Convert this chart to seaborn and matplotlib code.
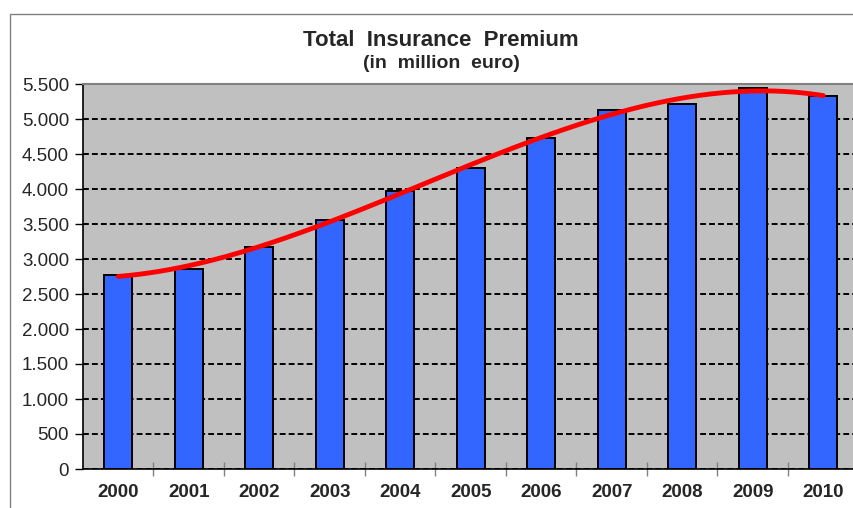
import numpy as np
import pandas as pd
import matplotlib
matplotlib.use("Agg")
import matplotlib.pyplot as plt
import matplotlib.ticker as mticker
from matplotlib.patches import Rectangle
import seaborn as sns

# datos
anios = ["2000", "2001", "2002", "2003", "2004", "2005",
         "2006", "2007", "2008", "2009", "2010"]
primas = [2775, 2860, 3170, 3555, 3975, 4295, 4735, 5130, 5215, 5440, 5330]

titulo = "Total  Insurance  Premium"
subtitulo = "(in  million  euro)"

df = pd.DataFrame({"anio": anios, "prima": primas})

sns.set_theme(style="white")
plt.rcParams["font.family"] = ["Liberation Sans", "DejaVu Sans"]

fig = plt.figure(figsize=(8.54, 5.08), dpi=100)
ax = fig.add_axes([83 / 854, 1 - 469 / 508, 775.5 / 854, 385 / 508])
ax.set_facecolor("#C0C0C0")

sns.barplot(data=df, x="anio", y="prima", color="#3366FF", saturation=1,
            width=0.4, edgecolor="black", linewidth=1.4, ax=ax, zorder=3)

# linea de tendencia polinomica (orden 3), como en Excel
xs = np.arange(len(anios))
coef = np.polyfit(xs, primas, 3)
xf = np.linspace(0, len(anios) - 1, 200)
tend = pd.DataFrame({"x": xf, "y": np.polyval(coef, xf)})
sns.lineplot(data=tend, x="x", y="y", color="red", linewidth=3.5, ax=ax, zorder=4)

ax.set_xlim(-0.5, len(anios) - 0.5)
ax.set_ylim(0, 5500)
ax.set_yticks(np.arange(0, 5501, 500))
ax.yaxis.set_major_formatter(
    mticker.FuncFormatter(lambda v, p: f"{int(v):,}".replace(",", ".")))
ax.grid(axis="y", color="black", linestyle=(0, (3, 1.6)), linewidth=1.4, zorder=1)
ax.set_axisbelow(True)

ax.set_xlabel("")
ax.set_ylabel("")
ax.tick_params(axis="y", direction="out", length=6, width=1, color="black",
               labelsize=13.5, pad=4, left=True)
ax.tick_params(axis="x", which="major", length=0, labelsize=13.5, pad=11)
for t in ax.get_xticklabels():
    t.set_fontweight("bold")
ax.set_xticks(np.arange(0.5, len(anios) - 1, 1), minor=True)
ax.tick_params(axis="x", which="minor", direction="inout", length=10,
               width=1, color="#808080", bottom=True)

for s in ["left", "bottom"]:
    ax.spines[s].set_color("black")
    ax.spines[s].set_linewidth(1.2)
ax.spines["right"].set_visible(False)
ax.spines["top"].set_color("#808080")
ax.spines["top"].set_linestyle((0, (2, 1)))
ax.spines["top"].set_linewidth(1.5)

fig.text(441 / 854, 1 - 40 / 508, titulo, ha="center", va="center",
         fontsize=16, fontweight="bold")
fig.text(441 / 854, 1 - 64 / 508, subtitulo, ha="center", va="center",
         fontsize=14, fontweight="bold")

# marco del area del grafico
fig.patches.append(Rectangle((10 / 854, -0.1), 1.2, 1 - 14 / 508 + 0.1,
                             transform=fig.transFigure, fill=False,
                             edgecolor="#808080", linewidth=1))

fig.savefig("out.png", dpi=100)
